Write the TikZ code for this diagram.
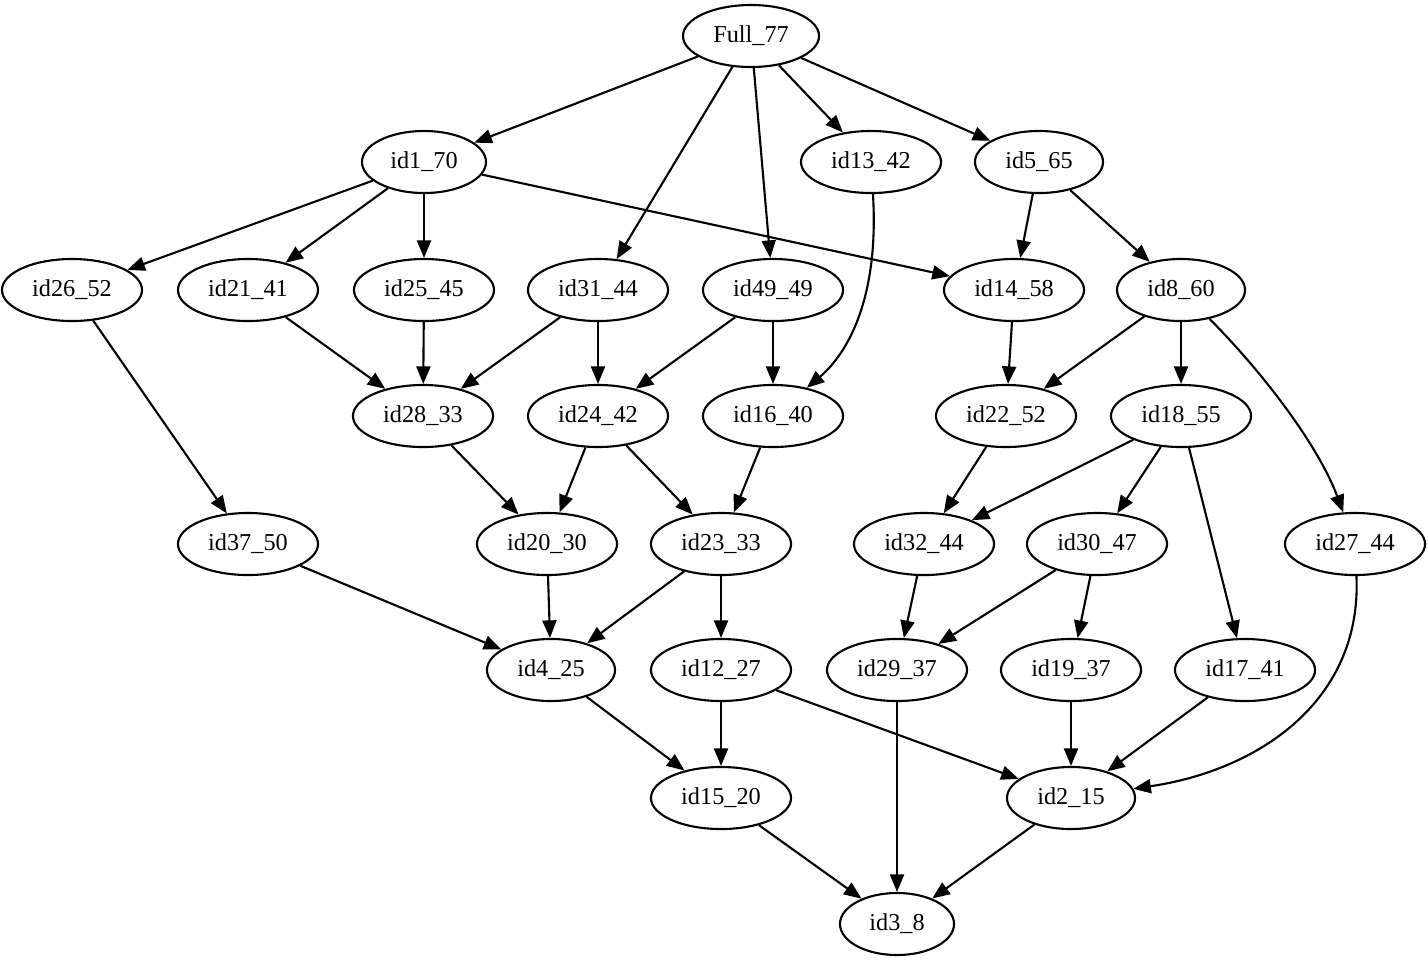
\documentclass[tikz,border=0pt]{standalone}
\usepackage{fontspec}
\setmainfont{Liberation Serif}
\usetikzlibrary{shapes.geometric,arrows.meta}
\begin{document}
\begin{tikzpicture}[x=0.01cm,y=-0.01cm,
  nd/.style={ellipse,draw,line width=0.6pt,inner sep=0pt,minimum width=1.4cm,minimum height=0.62cm,font=\fontsize{6.9}{8}\selectfont},
  ed/.style={line width=0.6pt,-{Triangle[length=5pt,width=4pt]}}]
\useasboundingbox (0,0) rectangle (1428,963);
\node[nd,minimum width=1.36cm] (full) at (751,36) {Full\_77};
\node[nd,minimum width=1.24cm] (id1) at (424,162) {id1\_70};
\node[nd] (id13) at (871,162) {id13\_42};
\node[nd,minimum width=1.28cm] (id5) at (1039,162) {id5\_65};
\node[nd] (id26) at (72,290) {id26\_52};
\node[nd] (id21) at (248,290) {id21\_41};
\node[nd] (id25) at (424,290) {id25\_45};
\node[nd] (id31) at (598,290) {id31\_44};
\node[nd] (id49) at (773,290) {id49\_49};
\node[nd] (id14) at (1014,290) {id14\_58};
\node[nd,minimum width=1.28cm] (id8) at (1181,290) {id8\_60};
\node[nd] (id28) at (423,416) {id28\_33};
\node[nd] (id24) at (598,416) {id24\_42};
\node[nd] (id16) at (773,416) {id16\_40};
\node[nd] (id22) at (1006,416) {id22\_52};
\node[nd] (id18) at (1181,416) {id18\_55};
\node[nd] (id37) at (248,544) {id37\_50};
\node[nd] (id20) at (547,544) {id20\_30};
\node[nd] (id23) at (721,544) {id23\_33};
\node[nd] (id32) at (924,544) {id32\_44};
\node[nd] (id30) at (1097,544) {id30\_47};
\node[nd] (id27) at (1355,544) {id27\_44};
\node[nd,minimum width=1.28cm] (id4) at (551,670) {id4\_25};
\node[nd] (id12) at (721,670) {id12\_27};
\node[nd] (id29) at (897,670) {id29\_37};
\node[nd] (id19) at (1071,670) {id19\_37};
\node[nd] (id17) at (1245,670) {id17\_41};
\node[nd] (id15) at (721,798) {id15\_20};
\node[nd,minimum width=1.28cm] (id2) at (1071,798) {id2\_15};
\node[nd,minimum width=1.14cm] (id3) at (897,924) {id3\_8};
\foreach \a/\b in {full/id1,full/id31,full/id49,full/id13,full/id5,
  id1/id26,id1/id21,id1/id25,id1/id14,id5/id14,id5/id8,
  id26/id37,id21/id28,id25/id28,id31/id28,id31/id24,id49/id24,id49/id16,
  id14/id22,id8/id22,id8/id18,id28/id20,id24/id20,id24/id23,id16/id23,
  id22/id32,id18/id32,id18/id30,id18/id17,id37/id4,id20/id4,id23/id4,id23/id12,
  id32/id29,id30/id29,id30/id19,id4/id15,id12/id15,id12/id2,
  id29/id3,id19/id2,id17/id2,id15/id3,id2/id3}
  \draw[ed] (\a) -- (\b);
\draw[ed] (id13) .. controls (880,310) and (840,360) .. (id16);
\draw[ed] (id8) .. controls (1270,380) and (1320,450) .. (id27);
\draw[ed] (id27) .. controls (1362,700) and (1260,770) .. (id2);
\end{tikzpicture}
\end{document}
